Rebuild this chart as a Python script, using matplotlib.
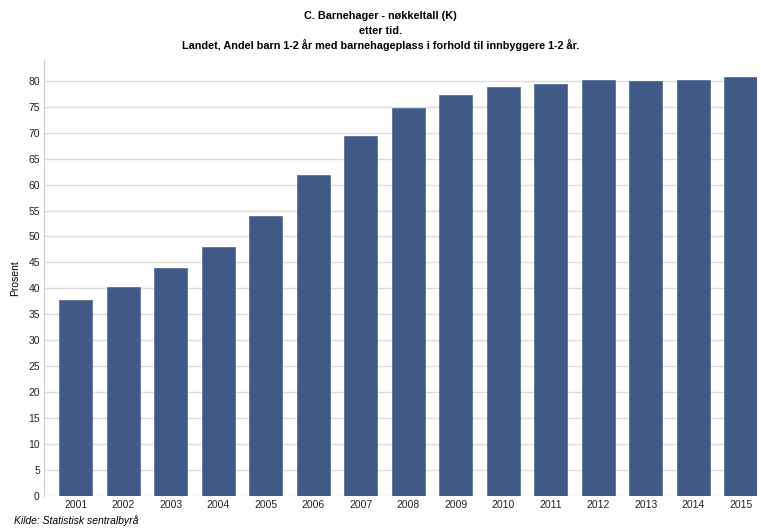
import matplotlib.pyplot as plt

plt.rcParams['font.family'] = ['Liberation Sans', 'DejaVu Sans']

years = ['2001', '2002', '2003', '2004', '2005', '2006', '2007', '2008',
         '2009', '2010', '2011', '2012', '2013', '2014', '2015']
andel = [37.8, 40.3, 43.9, 48.0, 53.9, 61.8, 69.4, 74.8,
         77.3, 78.8, 79.4, 80.2, 79.9, 80.2, 80.7]
yticks = list(range(0, 85, 5))

fig = plt.figure(figsize=(7.61, 5.30), dpi=100)
ax = fig.add_axes([44 / 761, 1 - 496 / 530, (757 - 44) / 761, (496 - 60) / 530])

x = list(range(len(years)))
ax.bar(x, andel, width=0.7, color='#3f5a87', edgecolor='#5d7296', linewidth=0.6, zorder=3)

ax.set_xlim(-0.67, 14.34)
ax.set_ylim(0, 84)
ax.set_xticks(x)
ax.set_xticklabels(years)
ax.set_yticks(yticks)
ax.tick_params(axis='both', labelsize=7.5, colors='#222222', length=0, pad=3)
ax.yaxis.grid(True, color='#dddddd', linewidth=1, zorder=0)
for s in ['top', 'right', 'bottom']:
    ax.spines[s].set_visible(False)
ax.spines['left'].set_color('#cccccc')
ax.set_ylabel('Prosent', fontsize=7.5, labelpad=6)

# tittel
fig.text(0.5, 1 - 16 / 530, 'C. Barnehager - nøkkeltall (K)', ha='center', va='center',
         fontsize=7.8, fontweight='bold')
fig.text(0.5, 1 - 31 / 530, 'etter tid.', ha='center', va='center',
         fontsize=7.8, fontweight='bold')
fig.text(0.5, 1 - 45 / 530, 'Landet, Andel barn 1-2 år med barnehageplass i forhold til innbyggere 1-2 år.',
         ha='center', va='center', fontsize=7.8, fontweight='bold')
fig.text(14 / 761, 1 - 521 / 530, 'Kilde: Statistisk sentralbyrå', ha='left', va='center',
         fontsize=7.5, style='italic')

fig.savefig('out.png', dpi=100, facecolor='white')
